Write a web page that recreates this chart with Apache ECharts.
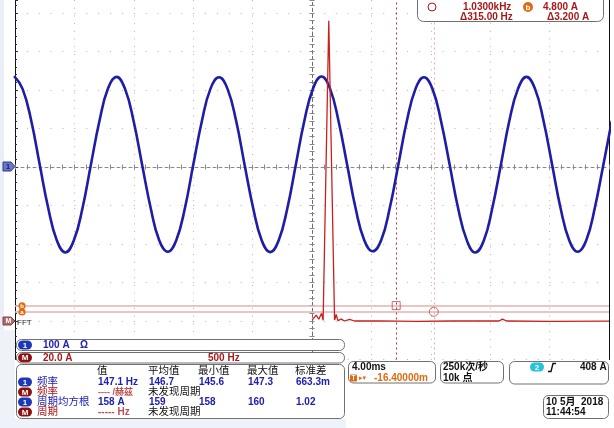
<!DOCTYPE html>
<html><head><meta charset="utf-8">
<script src="https://cdn.jsdelivr.net/npm/echarts@6/dist/echarts.min.js"></script>
<style>html,body{margin:0;padding:0;background:#fff}#c{width:614px;height:428px}</style>
</head><body><div id="c"></div>
<script>
// Channel 1 (100 A/div) samples: time in ms, current in A
const blueTime = [-20.06,-19.49,-18.91,-18.34,-17.76,-17.19,-16.61,-16.04,-15.46,-14.89,-14.31,-13.74,
 -13.16,-12.59,-12.01,-11.44,-10.86,-10.29,-9.71,-9.14,-8.56,-7.99,-7.41,-6.84,
 -6.26,-5.69,-5.11,-4.54,-3.96,-3.39,-2.81,-2.24,-1.66,-1.09,-0.51,0.07,
 0.64,1.22,1.79,2.37,2.94,3.52,4.09,4.67,5.24,5.82,6.39,6.97,
 7.54,8.12,8.69,9.27,9.84,10.42,10.99,11.57,12.14,12.72,13.29,13.87,
 14.44,15.02,15.59,16.17,16.74,17.32,17.89,18.47,19.04,19.62,20.19];
const blueAmps = [236,203,121,7,-107,-190,-222,-191,-108,6,120,204,
 234,203,119,6,-107,-190,-220,-190,-107,7,120,203,
 233,203,120,6,-107,-190,-221,-190,-107,6,121,204,
 235,203,119,5,-108,-190,-219,-189,-106,7,120,203,
 233,202,119,6,-107,-190,-222,-191,-107,6,120,203,
 234,203,120,6,-107,-190,-220,-190,-107,6,120];
// Math channel M (20 A/div)
const mathTime = [0.01,0.28,0.46,0.64,0.75,1.13,1.18,1.52,1.63,1.74,1.97,2.19,2.53,2.86,4.5,7.0,9.5,12.6,12.83,13.1,16.0,20.0];
const mathAmps = [0.5,3.1,0.9,4.0,0.4,156,156,0.5,3.4,0.2,1.0,0,0.9,0,0.1,-0.2,0,0,1.0,0,-0.2,-0.1];
// Cursors
const cursorTimes = [5.67, 8.20];
const cursorLevels = [8.0, 4.8];
// Axis scales (visible screen: 4.34 div above centre, 5 div below)
const timeRange = [-20, 20], timeStep = 4;
const ch1Range = [-500, 433.8], ch1Step = 100;
const mathRange = [-20, 166.8], mathStep = 20;
// Texts
const headers = ['值','平均值','最小值','最大值','标准差'];
const measRows = [
  {src:'1', name:'频率', vals:['147.1 Hz','146.7','145.6','147.3','663.3m']},
  {src:'M', name:'频率', vals:['---- /赫兹','未发现周期']},
  {src:'1', name:'周期均方根', vals:['158 A','159','158','160','1.02']},
  {src:'M', name:'周期', vals:['----- Hz','未发现周期']}
];

const FF = '"Liberation Sans","Noto Sans CJK SC",sans-serif';
const BLUE = '#2020b0', RED = '#a81818', ORANGE = '#e06a10';
const els = [];
function txt(x, y, s, color, size, weight, align, family) {
  els.push({type:'text', x:x, y:y, z:120, silent:true, style:{text:s, fill:color,
    font:(weight||'bold')+' '+size+'px '+(family||FF), textAlign:align||'left', textVerticalAlign:'middle'}});
}
function box(x, y, w, h, r, fill, stroke) {
  els.push({type:'rect', z:100, silent:true, shape:{x:x, y:y, width:w, height:h, r:r},
    style:{fill:fill||'#fff', stroke:stroke===undefined?'#707070':stroke, lineWidth:1}});
}
function pill(x, y, label, color) {
  els.push({type:'rect', z:110, silent:true, shape:{x:x, y:y-4.5, width:14, height:9, r:4.5}, style:{fill:color}});
  txt(x+7, y+0.5, label, '#fff', 8, 'bold', 'center');
}
// pale background strips
els.push({type:'rect', z:95, silent:true, shape:{x:0,y:0,width:4,height:428}, style:{fill:'#e9eef8'}});
els.push({type:'rect', z:95, silent:true, shape:{x:0,y:330,width:15,height:98}, style:{fill:'#eef2f9'}});
els.push({type:'rect', z:95, silent:true, shape:{x:0,y:419,width:346,height:9}, style:{fill:'#eef2f9'}});

// cursor readout (top right)
box(417.5, -6.5, 186, 28, 6);
els.push({type:'circle', z:110, silent:true, shape:{cx:432, cy:7, r:4}, style:{fill:'#fff', stroke:RED, lineWidth:1}});
txt(463, 7.5, '1.0300kHz', RED, 10);
els.push({type:'circle', z:110, silent:true, shape:{cx:528, cy:7, r:5}, style:{fill:ORANGE}});
txt(528, 7.5, 'b', '#fff', 8, 'bold', 'center');
txt(543, 7.5, '4.800 A', RED, 10);
txt(460, 17, 'Δ315.00 Hz', RED, 10);
txt(547, 17, 'Δ3.200 A', RED, 10);

// left markers
els.push({type:'polygon', z:110, silent:true, shape:{points:[[3,162],[11,162],[15,166.5],[11,171],[3,171]]}, style:{fill:'#6a78c8', stroke:'#2c3590', lineWidth:1}});
txt(8, 167, '1', '#1a2070', 8, 'bold', 'center');
els.push({type:'polygon', z:110, silent:true, shape:{points:[[3,317],[11,317],[15,321],[11,325],[3,325]]}, style:{fill:'#b06a6a', stroke:'#8a4040', lineWidth:1}});
txt(8.5, 321.5, 'M', '#fff', 7, 'bold', 'center');
txt(17, 322.5, 'FFT', '#222', 8, 'normal');
els.push({type:'circle', z:110, silent:true, shape:{cx:22, cy:312, r:3.6}, style:{fill:ORANGE}});
txt(22, 312.5, 'a', '#fff', 6, 'bold', 'center');
els.push({type:'circle', z:111, silent:true, shape:{cx:22, cy:305.8, r:3.6}, style:{fill:ORANGE}});
txt(22, 306, 'b', '#fff', 6, 'bold', 'center');

// bottom-left boxes
box(16.5, 339.5, 328, 11, 5);
pill(18, 345, '1', '#1b38b8');
txt(43, 345.5, '100 A', BLUE, 10);
txt(80, 345.5, 'Ω', BLUE, 10);
box(16.5, 352.5, 328, 10.5, 5);
pill(18, 357.7, 'M', '#8e1212');
txt(43, 358, '20.0 A', RED, 10);
txt(208, 358, '500 Hz', RED, 10);
box(16.5, 364.5, 328, 54, 5);
const colX = [97, 148, 198, 247, 295];
headers.forEach((h, i) => txt(colX[i], 371, h, '#111', 10.5, 'normal'));
measRows.forEach((r, j) => {
  const y = 382 + j * 10;
  const isM = r.src === 'M';
  pill(18, y, r.src, isM ? '#8e1212' : '#1b38b8');
  txt(37, y + 0.5, r.name, isM ? RED : BLUE, 10.5, 'normal');
  if (isM) {
    txt(98, y + 0.5, r.vals[0], '#c05050', j === 1 ? 9 : 10, 'bold');
    txt(148, y + 0.5, r.vals[1], '#111', 10.5, 'normal');
  } else {
    r.vals.forEach((v, i) => txt(colX[i] + 1, y + 0.5, v, BLUE, 10));
  }
});

// bottom-right boxes
box(348.5, 361.5, 87, 21.5, 5);
txt(352, 367.5, '4.00ms', '#111', 10);
els.push({type:'rect', z:110, silent:true, shape:{x:350, y:374.5, width:7, height:7, r:1}, style:{fill:ORANGE}});
txt(353.5, 378.3, 'T', '#fff', 6.5, 'bold', 'center');
txt(359, 378, '▸▾', ORANGE, 7, 'normal', 'left', '"DejaVu Sans",sans-serif');
txt(374, 378.5, '-16.40000m', ORANGE, 10);
box(440.5, 361.5, 63, 21.5, 5);
txt(443, 367.5, '250k次/秒', '#111', 10);
txt(443, 378.5, '10k 点', '#111', 10);
box(509.5, 361.5, 99, 22.5, 5);
els.push({type:'rect', z:110, silent:true, shape:{x:530, y:362.5, width:14, height:9, r:4.5}, style:{fill:'#25c4d8'}});
txt(537, 367.5, '2', '#fff', 8, 'bold', 'center');
els.push({type:'polyline', z:110, silent:true, shape:{points:[[548,371.5],[551,371.5],[553,363.5],[556,363.5]]}, style:{stroke:'#111', lineWidth:1.4, fill:null}});
txt(580, 367.5, '408 A', '#111', 10);
box(543.5, 395.5, 65, 23, 5);
txt(546, 402, '10 5月  2018', '#111', 10);
txt(546, 412, '11:44:54', '#111', 10);

const chart = echarts.init(document.getElementById('c'), null, {renderer:'canvas'});
const hidden = {show:false};
const centerTick = {show:true, length:2.5, lineStyle:{color:'#888', width:1}};
const centerMinor = {show:true, splitNumber:5, length:2.5, lineStyle:{color:'#888', width:1}};
function xAx(pos, extra) {
  return Object.assign({type:'value', min:timeRange[0], max:timeRange[1], interval:timeStep, position:pos,
    axisLabel:hidden, splitLine:hidden,
    axisLine:{show:true, onZero:true, onZeroAxisIndex:0, lineStyle:{color:'#8a8a8a', type:[3,3], width:1}},
    axisTick:centerTick, minorTick:centerMinor}, extra||{});
}
function yAx(pos, extra) {
  return Object.assign({type:'value', min:ch1Range[0], max:ch1Range[1], interval:ch1Step, position:pos,
    axisLabel:hidden, splitLine:hidden,
    axisLine:{show:true, onZero:true, onZeroAxisIndex:0, lineStyle:{color:'#6a6a6a', type:[3,3], width:1}},
    axisTick:centerTick, minorTick:centerMinor}, extra||{});
}
chart.setOption({
  backgroundColor:'#fff',
  animation:false,
  grid:{left:15, right:5, top:0, height:359.5, containLabel:false},
  xAxis:[
    xAx('bottom', {splitLine:{show:true, lineStyle:{color:'#b4b4b4', type:[1,6.7], width:1}}}),
    xAx('top', {axisLine:{show:false, onZero:true, onZeroAxisIndex:0}})
  ],
  yAxis:[
    {type:'value', min:ch1Range[0], max:ch1Range[1], interval:ch1Step, position:'left',
      axisLabel:hidden,
      axisLine:{show:true, onZero:false, lineStyle:{color:'#111', width:1}},
      axisTick:{show:true, inside:true, length:3, lineStyle:{color:'#333'}},
      minorTick:{show:true, splitNumber:5, length:2, lineStyle:{color:'#333'}},
      splitLine:{show:true, showMaxLine:false, lineStyle:{color:'#b4b4b4', type:[1,10.88], width:1}}},
    {type:'value', min:mathRange[0], max:mathRange[1], interval:mathStep, position:'right',
      axisLabel:hidden, splitLine:hidden, axisTick:hidden,
      axisLine:{show:true, onZero:false, lineStyle:{color:'#111', width:1}}},
    yAx('left'),
    yAx('right', {axisLine:{show:false, onZero:true, onZeroAxisIndex:0}})
  ],
  series:[
    {type:'line', name:'1', xAxisIndex:0, yAxisIndex:0, showSymbol:false, smooth:0.45, clip:true,
      data:blueTime.map((t,i)=>[t, blueAmps[i]]),
      lineStyle:{color:'#1d1da6', width:2.6}, z:5},
    {type:'line', name:'M', xAxisIndex:0, yAxisIndex:1, showSymbol:false, clip:true,
      data:mathTime.map((t,i)=>[t, mathAmps[i]]),
      lineStyle:{color:'#c8201e', width:1.3}, z:6,
      markLine:{silent:true, symbol:'none', label:hidden, animation:false,
        data:[
          {yAxis:cursorLevels[0], lineStyle:{color:'#e6b0b0', type:'solid', width:1.5}},
          {yAxis:cursorLevels[1], lineStyle:{color:'#e6b0b0', type:'solid', width:1.5}},
          {xAxis:cursorTimes[0], lineStyle:{color:'#c03030', type:[2,3], width:1}},
          {xAxis:cursorTimes[1], lineStyle:{color:'#eaa8a8', type:[2,3], width:1}}
        ]}},
    {type:'scatter', xAxisIndex:0, yAxisIndex:1, symbol:'rect', symbolSize:8, z:7,
      data:[[cursorTimes[0], cursorLevels[0]]],
      itemStyle:{color:'rgba(255,255,255,0)', borderColor:'#c04848', borderWidth:1}},
    {type:'scatter', xAxisIndex:0, yAxisIndex:1, symbol:'circle', symbolSize:9, z:7,
      data:[[cursorTimes[1], cursorLevels[1]]],
      itemStyle:{color:'rgba(255,255,255,0)', borderColor:'#c04848', borderWidth:1}}
  ],
  graphic:{elements:els}
});
</script></body></html>
